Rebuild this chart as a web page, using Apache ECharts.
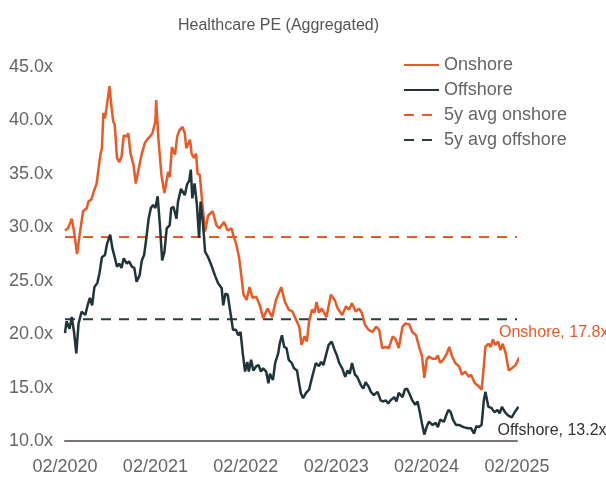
<!DOCTYPE html>
<html>
<head>
    <meta charset="utf-8">
    <title>Healthcare PE (Aggregated)</title>
    <script src="https://cdn.jsdelivr.net/npm/echarts@6.0.0/dist/echarts.min.js"></script>
    <style>
        html, body { margin: 0; padding: 0; background: #fff; }
        #chart-container { width: 606px; height: 482px; }
    </style>
</head>
<body>
<div id="chart-container"></div>
<script>
    // x = months since 02/2020, y = PE multiple
    const onshore = [
        [0,29.7],[0.4,29.9],[0.9,30.8],[1.2,29.6],[1.6,27.5],[2,29.6],[2.4,31.5],[2.9,31.8],[3.1,32.4],[3.5,32.6],
        [3.8,33.3],[4.2,34.1],[4.4,35.2],[4.7,36.8],[4.9,37.4],[5.1,40.7],[5.3,40.2],[5.5,41.1],[5.9,43.2],[6.2,41.1],
        [6.4,39.9],[6.6,39.6],[6.9,36.5],[7.2,36.1],[7.5,36.6],[7.8,38.6],[8.2,38.5],[8.4,38.8],[8.7,36.9],[9.1,35.8],
        [9.4,34.1],[9.7,35.2],[10.2,36.9],[10.6,37.9],[10.9,38.2],[11.3,38.5],[11.6,38.8],[12.0,39.9],[12.1,41.9],[12.4,38.3],
        [12.8,34.9],[13.2,33.2],[13.7,35.2],[13.9,34.7],[14.2,37.5],[14.6,36.8],[14.9,38.5],[15.2,39.1],[15.6,39.4],[15.9,38.8],
        [16.1,37.4],[16.6,38.2],[16.8,36.9],[17.1,36.5],[17.4,36.9],[17.6,35.0],[17.9,34.9],[18.2,32.4],[18.6,29.6],[19.0,31.1],
        [19.6,31.5],[20.1,30.2],[20.5,29.9],[21.1,30.5],[21.6,29.7],[22.1,29.9],[22.4,29.1],[22.7,28.5],[23.1,27.2],[23.4,25.5],
        [23.7,23.7],[24.1,23.2],[24.5,24.4],[24.9,23.4],[25.4,23.5],[25.9,22.6],[26.3,21.5],[26.9,22.4],[27.5,21.6],[28.0,23.2],
        [28.7,24.4],[29.2,23.0],[29.7,22.3],[30.2,22.1],[30.7,21.3],[31.1,20.7],[31.4,19.0],[31.8,19.8],[32.1,19.3],[32.4,21.2],
        [32.8,22.3],[33.1,22.0],[33.4,23.0],[33.7,22.0],[34.1,22.4],[34.7,21.6],[35.3,23.7],[35.8,23.2],[36.2,22.4],[36.8,21.8],
        [37.3,22.6],[37.7,22.3],[38.1,22.9],[38.6,22.1],[39.0,22.4],[39.4,22.0],[39.8,20.9],[40.3,20.4],[40.8,20.2],[41.3,20.7],
        [41.7,20.4],[42.1,18.7],[42.6,18.8],[43.0,18.7],[43.5,19.8],[43.9,19.5],[44.3,18.7],[44.8,20.7],[45.2,21.0],[45.7,20.9],
        [46.1,20.2],[46.6,19.9],[47.0,18.8],[47.4,17.9],[47.7,15.9],[48.0,17.6],[48.3,17.9],[48.8,17.7],[49.2,17.7],[49.5,18.0],
        [49.8,17.3],[50.3,17.7],[50.7,18.2],[51.0,18.8],[51.4,17.9],[51.8,17.3],[52.3,17.0],[52.7,16.2],[53.1,16.5],[53.6,16.0],
        [53.9,16.2],[54.4,15.4],[54.8,15.2],[55.3,14.8],[55.6,17.0],[55.8,18.8],[56.2,19.1],[56.5,18.8],[56.8,19.5],[57.1,19.0],
        [57.5,19.3],[57.8,18.5],[58.1,19.1],[58.5,18.2],[58.9,16.6],[59.3,16.8],[59.8,17.1],[60.3,17.8]
    ];
    const offshore = [
        [0,20.1],[0.2,21.2],[0.6,20.5],[0.9,21.6],[1.2,20.2],[1.5,18.2],[1.8,21.0],[2.2,22.1],[2.7,21.8],[3.0,22.7],
        [3.3,23.4],[3.6,22.7],[3.9,24.4],[4.3,24.8],[4.6,25.8],[4.9,27.2],[5.3,27.4],[5.6,28.5],[6.0,29.3],[6.3,28.0],
        [6.6,27.2],[6.9,26.3],[7.2,26.6],[7.5,26.2],[7.8,27.1],[8.2,26.6],[8.5,26.8],[8.9,26.3],[9.2,26.2],[9.5,24.9],
        [9.9,25.5],[10.2,26.9],[10.5,27.4],[10.8,29.0],[11.1,30.8],[11.4,31.8],[11.7,32.1],[12.0,31.8],[12.3,32.9],[12.6,30.2],
        [12.9,26.9],[13.2,27.7],[13.5,29.9],[13.9,30.2],[14.1,31.8],[14.4,31.9],[14.8,30.8],[15.0,32.4],[15.4,33.6],[15.9,33.0],
        [16.2,34.0],[16.5,34.4],[16.7,35.4],[16.9,32.7],[17.2,34.1],[17.5,32.2],[17.8,29.0],[18.0,32.4],[18.3,30.5],[18.6,27.7],
        [19.0,27.2],[19.4,26.5],[19.9,25.5],[20.3,24.8],[20.8,24.3],[21.0,22.7],[21.3,23.8],[21.6,23.7],[21.9,22.3],[22.3,20.4],
        [22.7,20.4],[23.0,19.9],[23.3,20.2],[23.6,18.2],[23.9,16.5],[24.2,17.4],[24.4,16.5],[24.7,17.6],[25.0,16.6],[25.4,17.0],
        [25.7,17.1],[26.0,16.5],[26.3,16.8],[26.7,16.5],[27.0,15.4],[27.2,16.3],[27.6,15.7],[27.9,17.3],[28.3,18.2],[28.5,19.1],
        [28.8,19.9],[29.1,18.8],[29.4,18.7],[29.7,17.6],[30.1,17.3],[30.4,16.8],[30.8,16.6],[31.0,15.7],[31.3,14.5],[31.6,14.0],
        [32.0,14.5],[32.4,14.8],[32.7,15.7],[33.0,16.5],[33.3,17.3],[33.7,17.0],[34.0,17.4],[34.3,17.1],[34.7,18.2],[35.0,19.0],
        [35.4,19.3],[35.8,18.5],[36.1,18.0],[36.4,17.3],[36.8,16.8],[37.2,16.0],[37.5,16.6],[37.8,16.3],[38.1,17.3],[38.5,16.2],
        [38.8,16.0],[39.3,15.2],[39.6,14.9],[39.9,15.5],[40.3,15.1],[40.6,14.6],[41.0,14.3],[41.5,14.6],[41.9,13.8],[42.2,13.7],
        [42.6,13.8],[42.9,13.5],[43.2,13.8],[43.7,14.1],[44.0,13.7],[44.3,14.5],[44.8,14.1],[45.1,14.8],[45.4,14.9],[45.8,14.3],
        [46.1,13.8],[46.5,13.4],[46.8,13.7],[47.1,12.7],[47.4,11.6],[47.7,10.6],[48.0,11.3],[48.3,11.8],[48.8,11.5],[49.2,11.7],
        [49.5,11.3],[49.8,12.0],[50.3,11.8],[50.6,12.4],[50.9,12.9],[51.2,12.7],[51.5,12.0],[51.9,11.5],[52.3,11.5],[52.9,11.3],
        [53.5,11.2],[53.9,11.2],[54.3,10.7],[54.6,11.4],[54.9,11.3],[55.3,11.5],[55.6,13.8],[55.8,14.6],[56.2,13.2],[56.6,13.1],
        [57.0,12.7],[57.4,12.9],[57.7,12.6],[58.0,13.2],[58.4,12.7],[58.8,12.4],[59.3,12.2],[59.7,12.7],[60.2,13.2]
    ];
    const avgOnshore = 29.1;
    const avgOffshore = 21.4;
    const avgSpan = [0, 60];
    const yearLabels = ['02/2020', '02/2021', '02/2022', '02/2023', '02/2024', '02/2025'];

    const orange = '#e95a26';
    const dark = '#1f3539';
    const font = "'Liberation Sans', Arial, Helvetica, sans-serif";

    const chart = echarts.init(document.getElementById('chart-container'));

    const option = {
        backgroundColor: '#fff',
        animation: false,
        textStyle: { fontFamily: font },
        title: {
            text: 'Healthcare PE (Aggregated)',
            left: 173,
            top: 13,
            textStyle: { fontSize: 16, fontWeight: 'normal', color: '#555', fontFamily: font }
        },
        legend: {
            orient: 'vertical',
            left: 398,
            top: 51,
            itemWidth: 35,
            itemHeight: 14,
            itemGap: 7,
            itemStyle: { opacity: 0 },
            data: ['Onshore', 'Offshore', '5y avg onshore', '5y avg offshore'],
            textStyle: { fontSize: 18, lineHeight: 18, color: '#666', fontFamily: font }
        },
        grid: { left: 65, right: 89, top: 67, bottom: 41 },
        xAxis: {
            type: 'value',
            min: 0,
            max: 60,
            interval: 12,
            axisLine: { show: true, lineStyle: { color: '#7d7573', width: 2 } },
            axisTick: { show: false },
            splitLine: { show: false },
            axisLabel: {
                margin: 17,
                fontSize: 18,
                color: '#666',
                fontFamily: font,
                formatter: v => yearLabels[v / 12]
            }
        },
        yAxis: {
            type: 'value',
            min: 10,
            max: 45,
            interval: 5,
            axisLine: { show: false },
            axisTick: { show: false },
            splitLine: { show: false },
            axisLabel: {
                margin: 12,
                fontSize: 18,
                color: '#666',
                fontFamily: font,
                formatter: v => v.toFixed(1) + 'x'
            }
        },
        series: [
            {
                name: 'Onshore',
                type: 'line',
                data: onshore,
                symbol: 'none',
                clip: false,
                z: 3,
                lineStyle: { color: orange, width: 2.5 },
                itemStyle: { color: orange },
                endLabel: {
                    show: true,
                    offset: [-28, -26],
                    fontSize: 16,
                    color: orange,
                    fontFamily: font,
                    formatter: p => 'Onshore, ' + p.value[1].toFixed(1) + 'x'
                }
            },
            {
                name: 'Offshore',
                type: 'line',
                data: offshore,
                symbol: 'none',
                clip: false,
                z: 4,
                lineStyle: { color: dark, width: 2.5 },
                itemStyle: { color: dark },
                endLabel: {
                    show: true,
                    offset: [-29, 24],
                    fontSize: 16,
                    color: '#333',
                    fontFamily: font,
                    formatter: p => 'Offshore, ' + p.value[1].toFixed(1) + 'x'
                }
            },
            {
                name: '5y avg onshore',
                type: 'line',
                data: avgSpan.map(x => [x, avgOnshore]),
                symbol: 'none',
                z: 2,
                lineStyle: { color: orange, width: 2, type: [10, 8] },
                itemStyle: { color: orange }
            },
            {
                name: '5y avg offshore',
                type: 'line',
                data: avgSpan.map(x => [x, avgOffshore]),
                symbol: 'none',
                z: 2,
                lineStyle: { color: '#2d3b3e', width: 2, type: [10, 8] },
                itemStyle: { color: '#2d3b3e' }
            }
        ]
    };

    chart.setOption(option);
</script>
</body>
</html>
